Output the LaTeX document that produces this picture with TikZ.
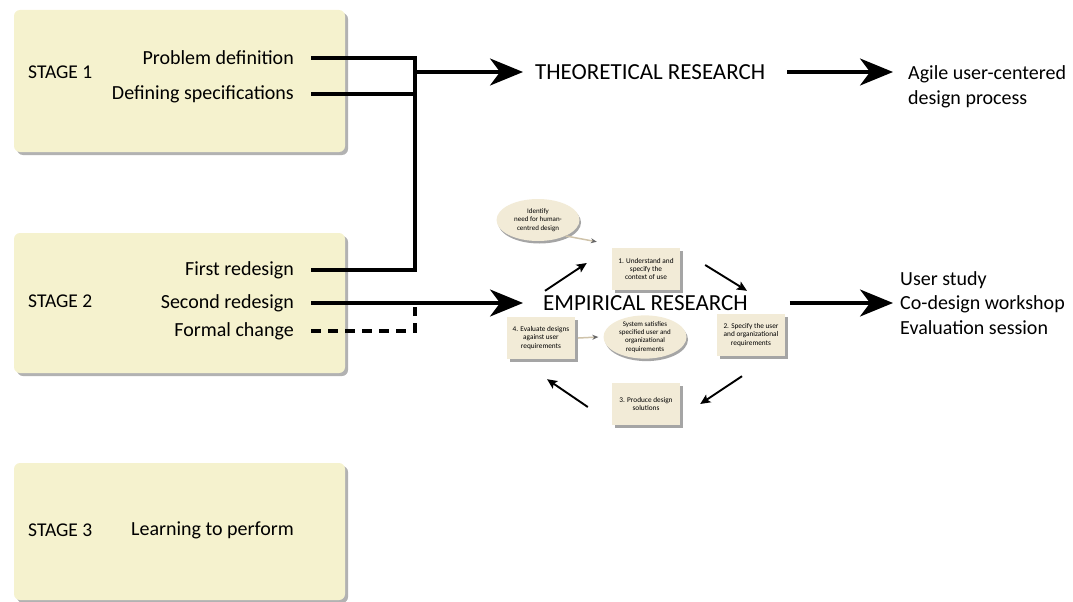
\documentclass[tikz,border=0pt]{standalone}
\usepackage{fontspec}
\setmainfont{Carlito}
\usetikzlibrary{arrows.meta}
\usetikzlibrary{shapes.geometric}
\usetikzlibrary{shadows}
\definecolor{stagefill}{HTML}{F5F2CE}
\definecolor{stepfill}{HTML}{F2EBD7}
\definecolor{paleline}{HTML}{CFC3AA}
\tikzset{bigarrow/.style = {line width = 3.1pt,
                            -{Stealth[length=33pt, width=27pt, inset=10pt]}}}
\tikzset{cycarrow/.style = {line width = 1.9pt,
                            -{Stealth[length=10pt, width=9pt, inset=2pt]}}}
\tikzset{palearrow/.style = {paleline, line width = 1.5pt,
                             -{Stealth[length=6pt, width=5pt, black!60]}}}
\tikzset{link/.style = {line width = 3.1pt}}
\tikzset{stagebox/.style = {fill = stagefill, rounded corners = 6pt, minimum width = 331,
                            drop shadow = {shadow xshift=3pt, shadow yshift=-3pt, fill=black!60}}}
\tikzset{stagename/.style = {anchor = west, inner sep = 0, font = \fontsize{19.5}{23}\selectfont}}
\tikzset{item/.style = {anchor = east, inner sep = 0, font = \fontsize{20}{24}\selectfont}}
\tikzset{research/.style = {anchor = west, inner sep = 0, font = \fontsize{23}{27}\selectfont}}
\tikzset{outcome/.style = {anchor = west, inner sep = 0, align = left, font = \fontsize{20}{24.5}\selectfont}}
\tikzset{stepbox/.style = {fill = stepfill, minimum width = 68, minimum height = 42, inner sep = 1,
                           align = center, font = \fontsize{7.3}{8.4}\selectfont,
                           drop shadow = {shadow xshift=2.5pt, shadow yshift=-2.5pt, fill=black!70}}}
\tikzset{bubble/.style = {ellipse, fill = stepfill, minimum width = 83, minimum height = 42, inner sep = 0,
                          align = center, font = \fontsize{7}{8.2}\selectfont,
                          drop shadow = {shadow xshift=1.5pt, shadow yshift=-2.5pt, fill=black!70}}}

\begin{document}
\begin{tikzpicture}[x = 1pt, y = -1pt]
      \useasboundingbox (0, 0) rectangle (1073, 602);

      \node [stagebox, minimum height = 142] (s1) at (179.5, 81) {};
      \node [stagebox, minimum height = 140] (s2) at (179.5, 303) {};
      \node [stagebox, minimum height = 137] (s3) at (179.5, 531.5) {};

      \node [stagename] (st1) at (28, 72) {STAGE 1};
      \node [stagename] (st2) at (28, 301) {STAGE 2};
      \node [stagename] (st3) at (28, 530) {STAGE 3};

      \node [item] (pd) at (294, 58) {Problem definition};
      \node [item] (ds) at (294, 94) {Defining specifications};
      \node [item] (fr) at (294, 270) {First redesign};
      \node [item] (sr) at (294, 303) {Second redesign};
      \node [item] (fc) at (294, 331) {Formal change};
      \node [item] (lp) at (294, 530) {Learning to perform};

      \node [research] (th) at (535, 72) {THEORETICAL RESEARCH};
      \node [research] (em) at (543, 303) {EMPIRICAL RESEARCH};

      \node [outcome] (ag) at (908, 87) {Agile user-centered\\design process};
      \node [outcome] (us) at (900, 303) {User study\\Co-design workshop\\Evaluation session};

      \coordinate (jtop) at (415, 58);
      \coordinate (jbot) at (415, 270);
      \coordinate (agtip) at (893, 72);

      % stage 1 and first redesign
      \draw [link] ([xshift=17pt]pd.east) -- (jtop) -- (jbot) -- ([xshift=17pt]fr.east);
      \draw [link] ([xshift=17pt]ds.east) -- (ds.east -| jtop);
      \draw [bigarrow] (jtop |- th.west) -- ([xshift=-12pt]th.west);
      \draw [bigarrow] ([xshift=22pt]th.east) -- (agtip);

      % second redesign and formal change
      \draw [link, dash pattern = on 10pt off 7pt] ([xshift=17pt]fc.east) -- (fc.east -| jbot)
            -- ([yshift=-4pt]sr.east -| jbot);
      \draw [bigarrow] ([xshift=17pt]sr.east) -- ([xshift=-20pt]em.west);
      \draw [bigarrow] ([xshift=42pt]em.east) -- ([xshift=-7pt]us.west);

      % design cycle
      \node [bubble] (id) at (538, 220) {Identify\\need for human-\\centred design};
      \node [stepbox] (b1) at (646, 269) {1. Understand and\\specify the\\context of use};
      \node [stepbox] (b2) at (751, 335) {2. Specify the user\\and organizational\\requirements};
      \node [stepbox] (b3) at (646, 404) {3. Produce design\\solutions};
      \node [stepbox] (b4) at (541, 338) {4. Evaluate designs\\against user\\requirements};
      \node [bubble, minimum height = 40] (sys) at (645, 337)
            {System satisfies\\specified user and\\organizational\\requirements};

      \draw [cycarrow] ([xshift=4pt, yshift=26pt]b4.north) -- ([xshift=-25pt, yshift=6pt]b1.west);
      \draw [cycarrow] ([xshift=25pt, yshift=4pt]b1.east) -- ([xshift=-4pt, yshift=23pt]b2.north);
      \draw [cycarrow] ([xshift=-9pt, yshift=-20pt]b2.south) -- ([xshift=20pt]b3.east);
      \draw [cycarrow] ([xshift=-24pt, yshift=-3pt]b3.west) -- ([xshift=6pt, yshift=-20pt]b4.south);

      \draw [palearrow] (id.-30) -- ([xshift=-15pt, yshift=6pt]b1.north west);
      \draw [palearrow] ([xshift=3pt]b4.east) -- ([xshift=-5pt]sys.west);
    \end{tikzpicture}
\end{document}
